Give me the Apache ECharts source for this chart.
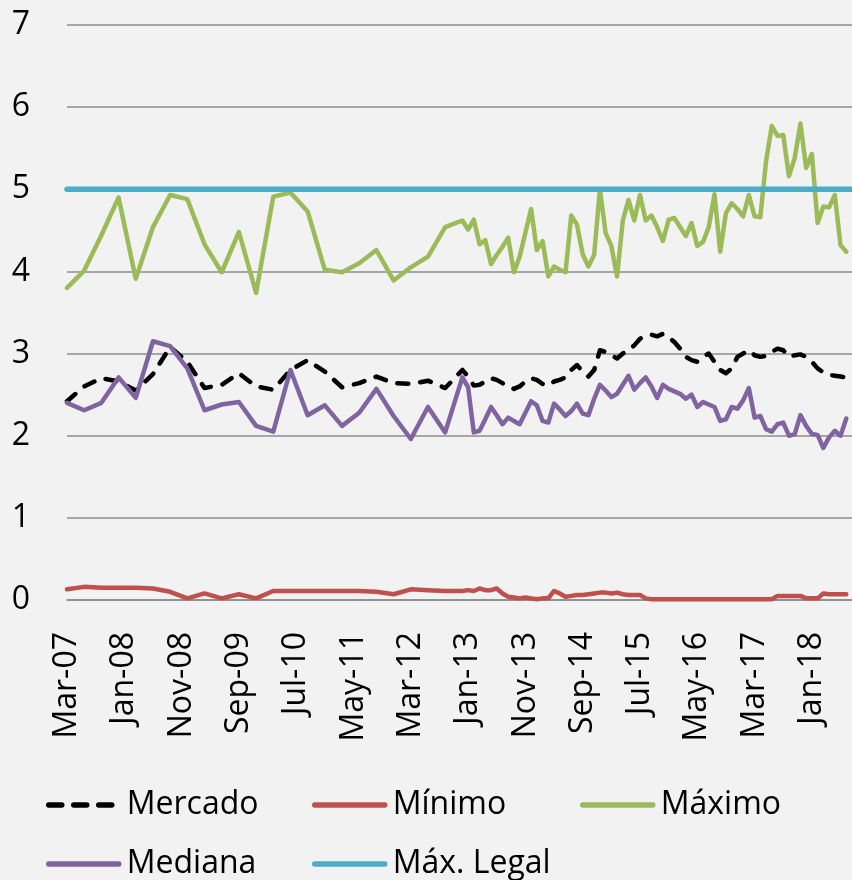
<!DOCTYPE html>
<html lang="es">
<head>
    <meta charset="UTF-8">
    <title>Tasas</title>
    <script src="https://cdn.jsdelivr.net/npm/echarts@6/dist/echarts.min.js"></script>
    <style>
        html, body { margin: 0; padding: 0; background: #f2f2f2; }
        #chart { width: 852px; height: 880px; }
    </style>
</head>
<body>
<div id="chart"></div>
<script>
    // eje x: meses desde Mar-07 (etiqueta cada 10 meses)
    var monthNames = ['Jan', 'Feb', 'Mar', 'Apr', 'May', 'Jun', 'Jul', 'Aug', 'Sep', 'Oct', 'Nov', 'Dec'];
    var categories = [];
    for (var i = 0; i < 138; i++) {
        var yy = 7 + Math.floor((2 + i) / 12);
        categories.push(monthNames[(2 + i) % 12] + '-' + (yy < 10 ? '0' : '') + yy);
    }

    // datos trimestrales hasta Dec-12, luego mensuales desde Jan-13
    var quarterIdx = [0, 3, 6, 9, 12, 15, 18, 21, 24, 27, 30, 33, 36, 39, 42, 45, 48, 51, 54, 57, 60, 63, 66, 69];
    var monthStart = 70;

    var mercadoQ = [2.42, 2.60, 2.70, 2.66, 2.55, 2.75, 3.08, 2.90, 2.58, 2.62, 2.76, 2.60,
        2.56, 2.80, 2.92, 2.78, 2.59, 2.64, 2.72, 2.64, 2.63, 2.67, 2.58, 2.80];
    var mercadoM = [2.72, 2.61, 2.62, 2.66, 2.70, 2.68, 2.64, 2.60, 2.57, 2.60,
        2.66, 2.70, 2.68, 2.63, 2.61, 2.66, 2.68, 2.71, 2.80, 2.86,
        2.78, 2.72, 2.80, 3.04, 3.02, 2.98, 2.94, 3.00, 3.04, 3.10,
        3.18, 3.22, 3.23, 3.21, 3.24, 3.20, 3.14, 3.06, 2.96, 2.92,
        2.90, 2.96, 3.00, 2.90, 2.80, 2.76, 2.82, 2.96, 3.00, 3.04,
        2.98, 2.96, 2.97, 3.02, 3.06, 3.04, 2.96, 2.98, 2.99, 2.96,
        2.90, 2.82, 2.77, 2.74, 2.73, 2.72, 2.71];

    var minimoQ = [0.13, 0.16, 0.15, 0.15, 0.15, 0.14, 0.10, 0.02, 0.08, 0.02, 0.07, 0.02,
        0.11, 0.11, 0.11, 0.11, 0.11, 0.11, 0.10, 0.07, 0.13, 0.12, 0.11, 0.11];
    var minimoM = [0.12, 0.11, 0.14, 0.12, 0.12, 0.14, 0.08, 0.04, 0.03, 0.02,
        0.03, 0.02, 0.01, 0.02, 0.02, 0.11, 0.08, 0.04, 0.05, 0.06,
        0.06, 0.07, 0.08, 0.09, 0.09, 0.08, 0.09, 0.07, 0.06, 0.06,
        0.06, 0.02, 0.01, 0.01, 0.01, 0.01, 0.01, 0.01, 0.01, 0.01,
        0.01, 0.01, 0.01, 0.01, 0.01, 0.01, 0.01, 0.01, 0.01, 0.01,
        0.01, 0.01, 0.01, 0.01, 0.05, 0.05, 0.05, 0.05, 0.05, 0.02,
        0.02, 0.02, 0.08, 0.07, 0.07, 0.07, 0.07];

    var maximoQ = [3.80, 4.01, 4.44, 4.90, 3.91, 4.54, 4.93, 4.88, 4.33, 3.99, 4.48, 3.74,
        4.91, 4.96, 4.73, 4.02, 3.99, 4.10, 4.26, 3.89, 4.05, 4.18, 4.54, 4.62];
    var maximoM = [4.51, 4.63, 4.33, 4.38, 4.09, 4.20, 4.30, 4.41, 3.99, 4.18,
        4.47, 4.76, 4.26, 4.37, 3.94, 4.06, 4.02, 3.99, 4.68, 4.57,
        4.21, 4.06, 4.20, 5.00, 4.47, 4.31, 3.94, 4.62, 4.87, 4.62,
        4.93, 4.62, 4.68, 4.54, 4.37, 4.63, 4.65, 4.54, 4.43, 4.59,
        4.31, 4.36, 4.54, 4.94, 4.24, 4.71, 4.83, 4.76, 4.67, 4.93,
        4.67, 4.66, 5.34, 5.77, 5.65, 5.66, 5.16, 5.38, 5.80, 5.26,
        5.43, 4.59, 4.79, 4.78, 4.93, 4.32, 4.24];

    var medianaQ = [2.40, 2.31, 2.40, 2.71, 2.46, 3.15, 3.09, 2.82, 2.31, 2.38, 2.41, 2.12,
        2.05, 2.80, 2.25, 2.37, 2.12, 2.28, 2.57, 2.24, 1.96, 2.35, 2.04, 2.71];
    var medianaM = [2.59, 2.04, 2.06, 2.20, 2.35, 2.25, 2.14, 2.22, 2.18, 2.14,
        2.28, 2.42, 2.37, 2.18, 2.16, 2.39, 2.32, 2.24, 2.30, 2.39,
        2.27, 2.25, 2.45, 2.62, 2.55, 2.47, 2.51, 2.62, 2.73, 2.56,
        2.64, 2.71, 2.60, 2.46, 2.62, 2.57, 2.54, 2.51, 2.45, 2.50,
        2.35, 2.41, 2.38, 2.35, 2.18, 2.20, 2.35, 2.33, 2.43, 2.58,
        2.22, 2.24, 2.08, 2.05, 2.14, 2.16, 2.00, 2.02, 2.25, 2.12,
        2.02, 2.01, 1.85, 1.98, 2.06, 2.00, 2.21];

    var maxLegalIdx = [0, 137];
    var maxLegal = [5, 5];

    function pairs(q, m) {
        var out = [];
        q.forEach(function (v, k) { out.push([quarterIdx[k], v]); });
        m.forEach(function (v, k) { out.push([monthStart + k, v]); });
        return out;
    }

    var font = 'Open Sans';
    function lineSeries(name, color, data, width, dashed) {
        return {
            name: name,
            type: 'line',
            data: data,
            symbol: 'none',
            lineStyle: {
                color: color,
                width: width,
                cap: 'round',
                join: 'round',
                type: dashed ? [11, 12] : 'solid'
            },
            itemStyle: { color: color }
        };
    }
    function legendAt(name, left, top, dashed) {
        return {
            data: [name],
            left: left,
            top: top,
            padding: 0,
            itemWidth: 70,
            itemHeight: 14,
            itemStyle: { opacity: 0 },
            lineStyle: { width: 5.5, cap: 'round', type: dashed ? [13, 12] : 'solid' },
            textStyle: { fontFamily: font, fontSize: 32, color: '#000', padding: [0, 0, 0, 3] }
        };
    }

    var myChart = echarts.init(document.getElementById('chart'));
    var option = {
        backgroundColor: '#f2f2f2',
        animation: false,
        grid: { left: 67, top: 25, width: 786, height: 575 },
        legend: [
            legendAt('Mercado', 46, 789, true),
            legendAt('Mínimo', 312, 789),
            legendAt('Máximo', 580, 789),
            legendAt('Mediana', 46, 848),
            legendAt('Máx. Legal', 312, 848)
        ],
        xAxis: {
            type: 'category',
            data: categories,
            boundaryGap: false,
            axisTick: { show: false },
            axisLine: { lineStyle: { color: '#8c8c8c', width: 1.5 } },
            axisLabel: {
                interval: 9,
                rotate: 90,
                margin: 32,
                color: '#000',
                fontFamily: font,
                fontSize: 32
            }
        },
        yAxis: {
            type: 'value',
            min: 0,
            max: 7,
            interval: 1,
            axisLine: { show: false },
            axisTick: { show: false },
            splitLine: { lineStyle: { color: '#8c8c8c', width: 1.5 } },
            axisLabel: { margin: 37, color: '#000', fontFamily: font, fontSize: 32 }
        },
        series: [
            lineSeries('Mercado', '#000000', pairs(mercadoQ, mercadoM), 4.5, true),
            lineSeries('Mínimo', '#c0504d', pairs(minimoQ, minimoM), 4.5),
            lineSeries('Máximo', '#9bbb59', pairs(maximoQ, maximoM), 4.5),
            lineSeries('Mediana', '#8064a2', pairs(medianaQ, medianaM), 4.5),
            lineSeries('Máx. Legal', '#4bacc6', maxLegalIdx.map(function (x, k) { return [x, maxLegal[k]]; }), 5.5)
        ]
    };
    myChart.setOption(option);
</script>
</body>
</html>
